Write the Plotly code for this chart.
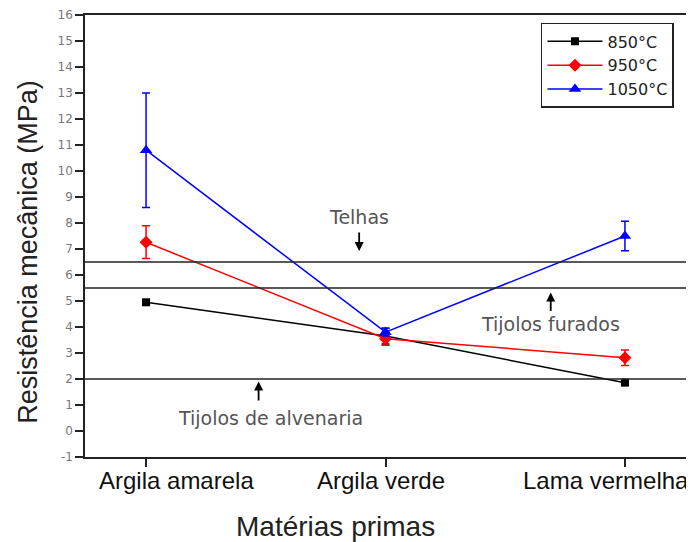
import plotly.graph_objects as go

categories = ["Argila amarela", "Argila verde", "Lama vermelha"]
series_names = ["850°C", "950°C", "1050°C"]
values_850 = [4.95, 3.65, 1.86]
errors_850 = [0.08, 0.3, 0.08]
values_950 = [7.26, 3.55, 2.82]
errors_950 = [0.63, 0.25, 0.3]
values_1050 = [10.8, 3.8, 7.5]
errors_1050 = [2.2, 0.15, 0.57]
reference_levels = [6.5, 5.5, 2.0]
y_ticks = list(range(-1, 17))
x_title = "Matérias primas"
y_title = "Resistência mecânica (MPa)"

colors = ["#000000", "#ff0000", "#0000ff"]
symbols = ["square", "diamond", "triangle-up"]
sizes = [8, 10, 11]

fig = go.Figure()
xs = list(range(len(categories)))
for name, vals, errs, c, s, sz in zip(series_names,
                                     [values_850, values_950, values_1050],
                                     [errors_850, errors_950, errors_1050],
                                     colors, symbols, sizes):
    fig.add_trace(go.Scatter(
        x=xs, y=vals, name=name, mode="lines+markers",
        line=dict(color=c, width=1.5),
        marker=dict(color=c, symbol=s, size=sz),
        error_y=dict(type="data", array=errs, visible=True, color=c,
                     thickness=1.5, width=4),
    ))

for lvl in reference_levels:
    fig.add_shape(type="line", xref="paper", x0=0, x1=1, yref="y", y0=lvl, y1=lvl,
                  line=dict(color="#222222", width=1.5))

ann_font = dict(family="DejaVu Sans", size=19, color="#555555")
annotations = [
    dict(text="Telhas", x=0.89, y=8.23, ax=0.89, ay=7.69, head_y=6.92),
    dict(text="Tijolos furados", x=1.69, y=4.10, ax=1.69, ay=4.56, head_y=5.33),
    dict(text="Tijolos de alvenaria", x=0.52, y=0.51, ax=0.47, ay=1.12, head_y=1.90),
]
for a in annotations:
    fig.add_annotation(x=a["x"], y=a["y"], text=a["text"], showarrow=False,
                       font=ann_font, xref="x", yref="y")
    fig.add_annotation(x=a["ax"], y=a["head_y"], ax=a["ax"], ay=a["ay"],
                       axref="x", ayref="y", xref="x", yref="y", text="",
                       showarrow=True, arrowhead=2, arrowsize=1, arrowwidth=1.8,
                       arrowcolor="#000000")

# category labels placed under their ticks (with the reference's offsets)
label_shifts = [30, -5, -19]
for xi, cat, sh in zip(xs, categories, label_shifts):
    fig.add_annotation(x=xi, y=0, xref="x", yref="paper", text=cat, showarrow=False,
                       xanchor="center", yanchor="top", xshift=sh, yshift=-8,
                       font=dict(family="Liberation Sans, Arial", size=24, color="#111111"))

fig.add_annotation(x=0.416, y=0, xref="paper", yref="paper", text=x_title,
                   showarrow=False, xanchor="center", yanchor="top", yshift=-52,
                   font=dict(family="Liberation Sans, Arial", size=28, color="#222222"))
fig.add_annotation(x=-0.095, y=0.464, xref="paper", yref="paper", text=y_title,
                   showarrow=False, xanchor="center", yanchor="middle", textangle=-90,
                   font=dict(family="Liberation Sans, Arial", size=27, color="#222222"))

# page body adds an 8px margin; figure sized so it fills the window exactly
fig.update_layout(
    width=686, height=534,
    margin=dict(l=77, r=8, t=7, b=85, autoexpand=False),
    paper_bgcolor="white", plot_bgcolor="white",
    font=dict(family="Liberation Sans, Arial", color="#000000"),
    showlegend=True,
    legend=dict(x=0.98, y=0.982, xanchor="right", yanchor="top",
                bordercolor="#222222", borderwidth=1.5, bgcolor="white",
                font=dict(family="DejaVu Sans", size=16, color="#222222"), itemwidth=55,
                tracegroupgap=0),
    xaxis=dict(
        tickmode="array", tickvals=xs, showticklabels=False,
        range=[-0.255, 2.255], showline=True, linecolor="#222222", linewidth=1.5,
        mirror=True, ticks="outside", ticklen=8, tickwidth=1.5, tickcolor="#222222",
        showgrid=False, zeroline=False, automargin=False,
    ),
    yaxis=dict(
        tickmode="array", tickvals=y_ticks, ticktext=[str(t) for t in y_ticks],
        range=[-1, 16], showline=True, linecolor="#222222", linewidth=1.5,
        mirror=True, ticks="outside", ticklen=8, tickwidth=1.5, tickcolor="#222222",
        showgrid=False, zeroline=False, automargin=False,
        tickfont=dict(family="DejaVu Sans", size=12, color="#777777"),
    ),
)

fig.write_html("out.html")
